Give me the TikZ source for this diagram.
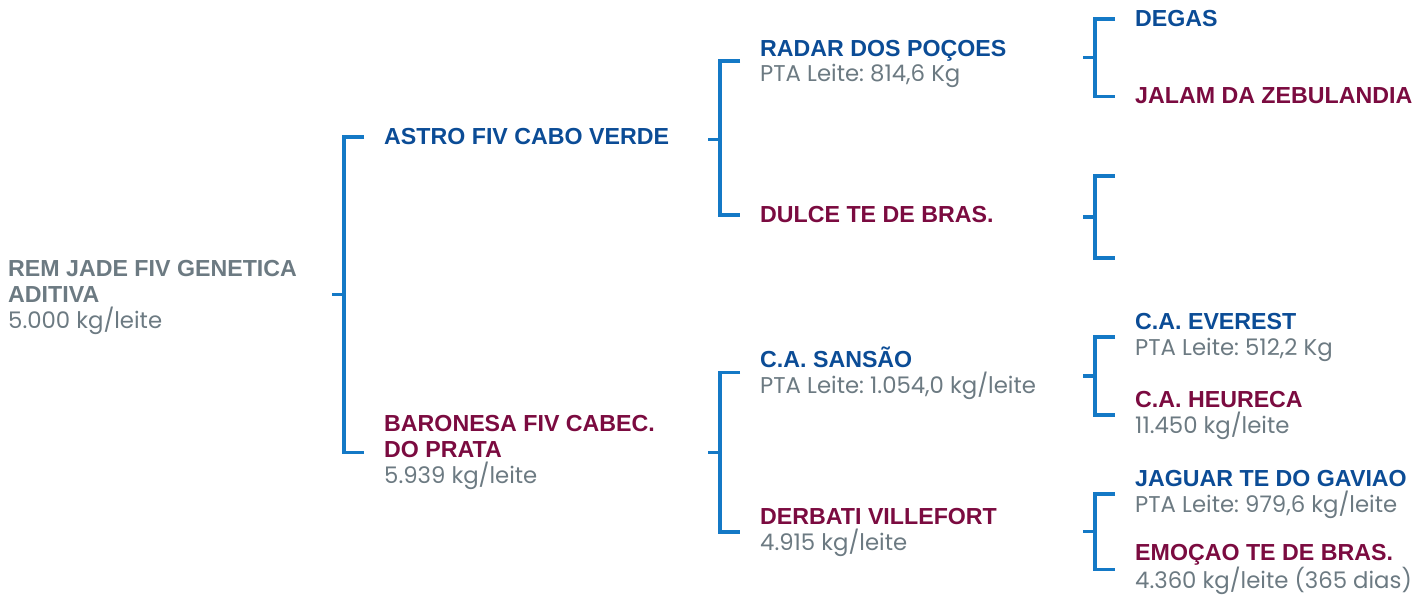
\documentclass[tikz,border=0pt]{standalone}
\usepackage{fontspec}
\setmainfont{Liberation Sans}
\newfontfamily\infofont{Poppins}
\usepackage{tikz}
\usetikzlibrary{positioning,calc}
\frenchspacing

\definecolor{sireblue}{HTML}{0B4C96}
\definecolor{damred}{HTML}{7B0B40}
\definecolor{infogray}{HTML}{6C7A82}
\definecolor{linkblue}{HTML}{1479C6}
\newcommand{\info}[1]{{\infofont\mdseries\fontsize{22.8}{25.8}\selectfont\color{infogray}#1}}

\begin{document}
\begin{tikzpicture}[
    x=1pt, y=-1pt,
    every node/.style={inner sep=0pt, anchor=base west, align=left, font=\fontsize{23.2}{25.8}\selectfont\bfseries},
    sire/.style={text=sireblue},
    dam/.style={text=damred},
    proband/.style={text=infogray},
    bracket/.style={draw=linkblue, line width=3.2pt, line join=miter},
]
\useasboundingbox (0,0) rectangle (1417,596);

% Animal (base = last line)
\node[proband] (root) at (8,328) {REM JADE FIV GENETICA\\ADITIVA\\\info{5.000 kg/leite}};

% Parents
\node[sire] (astro) at (384,145) {ASTRO FIV CABO VERDE};
\node[dam] (baronesa) at (384,483) {BARONESA FIV CABEC.\\DO PRATA\\\info{5.939 kg/leite}};

% Grandparents
\node[sire] (radar) at (760,82) {RADAR DOS POÇOES\\\info{PTA Leite: 814,6 Kg}};
\node[dam] (dulce) at (760,223) {DULCE TE DE BRAS.};
\node[sire] (sansao) at (760,393) {C.A. SANSÃO\\\info{PTA Leite: 1.054,0 kg/leite}};
\node[dam] (derbati) at (760,550) {DERBATI VILLEFORT\\\info{4.915 kg/leite}};

% Great-grandparents
\node[sire] (degas) at (1135,27) {DEGAS};
\node[dam] (jalam) at (1135,104) {JALAM DA ZEBULANDIA};
\coordinate (dulceS) at (1135,176);
\coordinate (dulceD) at (1135,258);
\node[sire] (everest) at (1135,355) {C.A. EVEREST\\\info{PTA Leite: 512,2 Kg}};
\node[dam] (heureca) at (1135,433) {C.A. HEURECA\\\info{11.450 kg/leite}};
\node[sire] (jaguar) at (1135,512) {JAGUAR TE DO GAVIAO\\\info{PTA Leite: 979,6 kg/leite}};
\node[dam] (emocao) at (1135,588) {EMOÇAO TE DE BRAS.\\\info{4.360 kg/leite (365 dias)}};

% Brackets
\draw[bracket] ([xshift=-20pt]astro.west) -- ++(-20,0) |- ([xshift=-20pt]baronesa.west);
\draw[bracket] ($(astro.west)!.5!(baronesa.west)+(-40,0)$) -- ++(-12,0);

\draw[bracket] ([xshift=-20pt,yshift=3pt]radar.west) -- ++(-20,0) |- ([xshift=-20pt]dulce.west);
\draw[bracket] ($(radar.west)!.5!(dulce.west)+(-40,0)$) -- ++(-12,0);
\draw[bracket] ([xshift=-20pt]sansao.west) -- ++(-20,0) |- ([xshift=-20pt]derbati.west);
\draw[bracket] ($(sansao.west)!.5!(derbati.west)+(-40,0)$) -- ++(-12,0);

\draw[bracket] ([xshift=-20pt]degas.west) -- ++(-20,0) |- ([xshift=-20pt]jalam.west);
\draw[bracket] ($(degas.west)!.5!(jalam.west)+(-40,0)$) -- ++(-12,0);
\draw[bracket] ([xshift=-20pt]dulceS) -- ++(-20,0) |- ([xshift=-20pt]dulceD);
\draw[bracket] ($(dulceS)!.5!(dulceD)+(-40,0)$) -- ++(-12,0);
\draw[bracket] ([xshift=-20pt]everest.west) -- ++(-20,0) |- ([xshift=-20pt]heureca.west);
\draw[bracket] ($(everest.west)!.5!(heureca.west)+(-40,0)$) -- ++(-12,0);
\draw[bracket] ([xshift=-20pt]jaguar.west) -- ++(-20,0) |- ([xshift=-20pt]emocao.west);
\draw[bracket] ($(jaguar.west)!.5!(emocao.west)+(-40,0)$) -- ++(-12,0);

\end{tikzpicture}
\end{document}
